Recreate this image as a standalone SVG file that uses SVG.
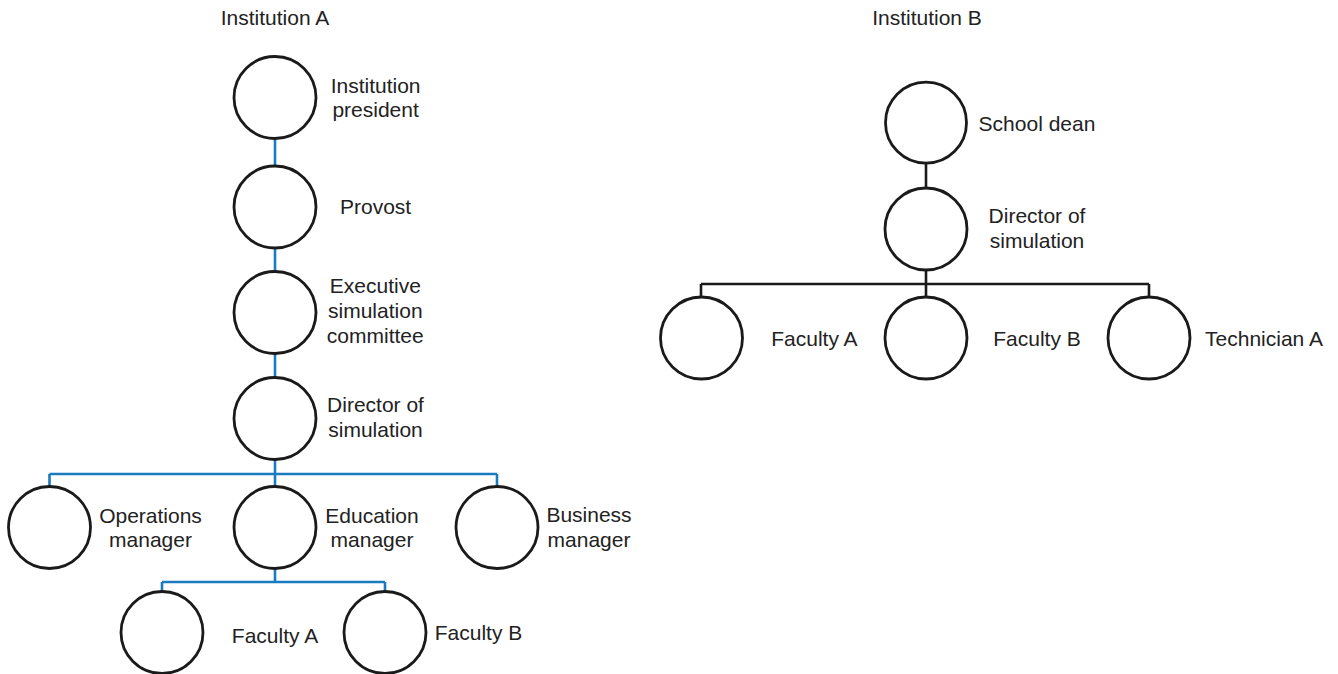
<svg xmlns="http://www.w3.org/2000/svg" width="1338" height="674" viewBox="0 0 1338 674">
  <style>
    .node { fill: #ffffff; stroke: #1a1a1a; stroke-width: 2.8; }
    .lbl { font-family: "Liberation Sans", Arial, sans-serif; font-size: 21px; fill: #222222; text-anchor: middle; }
    .link-a { fill: none; stroke: #1b7bc0; stroke-width: 2.6; }
    .link-b { fill: none; stroke: #1a1a1a; stroke-width: 2.6; }
  </style>
  <rect width="1338" height="674" fill="#ffffff"/>

  <!-- headings -->
  <text class="lbl" x="275" y="25">Institution A</text>
  <text class="lbl" x="927" y="25">Institution B</text>

  <!-- connectors -->
  <g id="connectors">
    <path class="link-a" d="M275 138 V166 M275 248 V272 M275 353 V377 M275 459 V474 M49.5 474 H497 M49.5 474 V487 M275 474 V487 M497 474 V487 M275 569 V582 M162 582 H385 M162 582 V592 M385 582 V592"/>
    <path class="link-b" d="M926 163 V188 M926 270 V284 M701 284 H1149 M701 284 V297 M926 284 V297 M1149 284 V297"/>
  </g>

  <!-- Institution A -->
  <g id="a-president">
    <circle class="node" cx="275" cy="97.5" r="41"/>
    <text class="lbl" x="375.6" y="93">Institution</text>
    <text class="lbl" x="375.6" y="117">president</text>
  </g>
  <g id="a-provost">
    <circle class="node" cx="275" cy="207" r="41"/>
    <text class="lbl" x="375.6" y="213.5">Provost</text>
  </g>
  <g id="a-committee">
    <circle class="node" cx="275" cy="312.5" r="41"/>
    <text class="lbl" x="375.3" y="293">Executive</text>
    <text class="lbl" x="375.3" y="318">simulation</text>
    <text class="lbl" x="375.3" y="343">committee</text>
  </g>
  <g id="a-director">
    <circle class="node" cx="275" cy="418.5" r="41"/>
    <text class="lbl" x="375.5" y="412">Director of</text>
    <text class="lbl" x="375.5" y="437">simulation</text>
  </g>
  <g id="a-operations">
    <circle class="node" cx="49.5" cy="527.5" r="41"/>
    <text class="lbl" x="150.5" y="523">Operations</text>
    <text class="lbl" x="150.5" y="547">manager</text>
  </g>
  <g id="a-education">
    <circle class="node" cx="275" cy="527.5" r="41"/>
    <text class="lbl" x="372" y="523">Education</text>
    <text class="lbl" x="372" y="547">manager</text>
  </g>
  <g id="a-business">
    <circle class="node" cx="497" cy="527.5" r="41"/>
    <text class="lbl" x="589" y="522">Business</text>
    <text class="lbl" x="589" y="547">manager</text>
  </g>
  <g id="a-faculty-a">
    <circle class="node" cx="162" cy="632.5" r="41"/>
    <text class="lbl" x="275" y="643">Faculty A</text>
  </g>
  <g id="a-faculty-b">
    <circle class="node" cx="385" cy="632.5" r="41"/>
    <text class="lbl" x="478.5" y="640">Faculty B</text>
  </g>

  <!-- Institution B -->
  <g id="b-dean">
    <circle class="node" cx="926" cy="122.7" r="40.5"/>
    <text class="lbl" x="1037" y="131">School dean</text>
  </g>
  <g id="b-director">
    <circle class="node" cx="926" cy="229" r="41"/>
    <text class="lbl" x="1037" y="223">Director of</text>
    <text class="lbl" x="1037" y="248">simulation</text>
  </g>
  <g id="b-faculty-a">
    <circle class="node" cx="701.5" cy="338" r="41"/>
    <text class="lbl" x="814.4" y="346">Faculty A</text>
  </g>
  <g id="b-faculty-b">
    <circle class="node" cx="926" cy="338" r="41"/>
    <text class="lbl" x="1037" y="346">Faculty B</text>
  </g>
  <g id="b-technician">
    <circle class="node" cx="1149" cy="338" r="41"/>
    <text class="lbl" x="1264" y="346">Technician A</text>
  </g>
</svg>
